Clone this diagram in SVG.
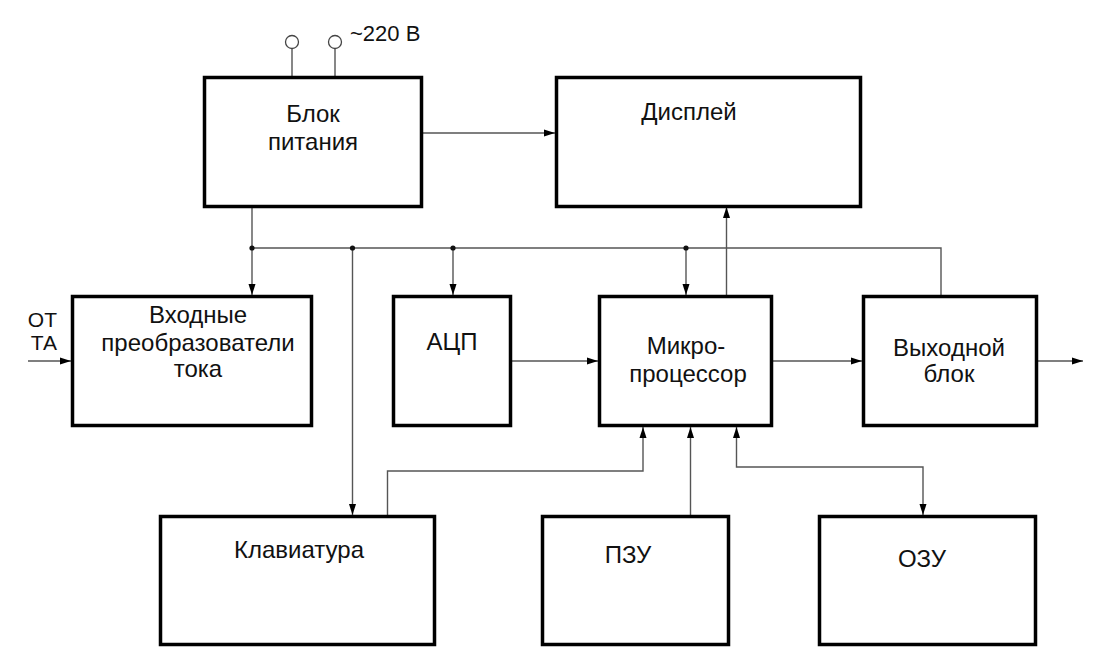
<svg xmlns="http://www.w3.org/2000/svg" width="1100" height="666" viewBox="0 0 1100 666">
<defs>
<style>
.box{fill:#fff;stroke:#000;stroke-width:3.5}
.ln{fill:none;stroke:#555;stroke-width:1.4}
.ar{marker-end:url(#ah)}
.t{font-family:"Liberation Sans",Arial,sans-serif;font-size:24px;fill:#111;text-anchor:middle}
.s{font-family:"Liberation Sans",Arial,sans-serif;font-size:21px;fill:#111}
.dot{fill:#111}
</style>
<marker id="ah" markerUnits="userSpaceOnUse" markerWidth="11" markerHeight="8" refX="11" refY="4" orient="auto-start-reverse" viewBox="0 0 11 8">
<path d="M0,0.5 L11,4 L0,7.5 z" fill="#000"/>
</marker>
</defs>
<rect width="1100" height="666" fill="#fff"/>
<g id="connectors">
<path class="ln" d="M292,48.5 V77 M335,48.5 V77"/>
<circle cx="292" cy="42" r="6.5" fill="#fff" stroke="#444" stroke-width="1.3"/>
<circle cx="335" cy="42" r="6.5" fill="#fff" stroke="#444" stroke-width="1.3"/>
<path class="ln ar" d="M422,133 H555"/>
<path class="ln ar" d="M252,208 V295"/>
<path class="ln" d="M252,248 H941 V295"/>
<path class="ln ar" d="M352.5,248 V515"/>
<path class="ln ar" d="M453,248 V295"/>
<path class="ln ar" d="M686,248 V295"/>
<path class="ln ar" d="M726.5,295 V207"/>
<path class="ln ar" d="M512,361 H598"/>
<path class="ln ar" d="M773,361 H862"/>
<path class="ln ar" d="M1038,361 H1083"/>
<path class="ln ar" d="M28,361 H71"/>
<path class="ln ar" d="M387.5,515 V471 H643 V427"/>
<path class="ln ar" d="M690.5,515 V427"/>
<path class="ln ar" style="marker-start:url(#ah)" d="M736.5,427 V467 H923 V515"/>
<circle class="dot" cx="252" cy="248" r="2.6"/>
<circle class="dot" cx="352.5" cy="248" r="2.6"/>
<circle class="dot" cx="453" cy="248" r="2.6"/>
<circle class="dot" cx="686" cy="248" r="2.6"/>
<text x="350" y="41" class="s" style="font-size:22px">~220 В</text>
<text x="57" y="327" class="s" style="text-anchor:end">ОТ</text>
<text x="57" y="350" class="s" style="text-anchor:end">ТА</text>
</g>
<g id="power">
<rect class="box" x="204.5" y="77.5" width="217" height="129"/>
<text class="t" x="313" y="122">Блок</text>
<text class="t" x="313" y="150">питания</text>
</g>
<g id="display">
<rect class="box" x="556.5" y="77.5" width="304" height="129"/>
<text class="t" x="689" y="120">Дисплей</text>
</g>
<g id="input">
<rect class="box" x="72.5" y="296.5" width="239" height="129"/>
<text class="t" x="198" y="323">Входные</text>
<text class="t" x="198" y="351">преобразователи</text>
<text class="t" x="198" y="377">тока</text>
</g>
<g id="adc">
<rect class="box" x="393.5" y="296.5" width="117" height="129"/>
<text class="t" x="452" y="350">АЦП</text>
</g>
<g id="cpu">
<rect class="box" x="599.5" y="296.5" width="172" height="129"/>
<text class="t" x="686" y="354">Микро-</text>
<text class="t" x="688" y="382">процессор</text>
</g>
<g id="output">
<rect class="box" x="863.5" y="296.5" width="173" height="129"/>
<text class="t" x="949" y="356">Выходной</text>
<text class="t" x="949" y="382">блок</text>
</g>
<g id="keyboard">
<rect class="box" x="160.5" y="516.5" width="274" height="128"/>
<text class="t" x="299" y="558">Клавиатура</text>
</g>
<g id="rom">
<rect class="box" x="542.5" y="516.5" width="186" height="128"/>
<text class="t" x="628" y="563">ПЗУ</text>
</g>
<g id="ram">
<rect class="box" x="819.5" y="516.5" width="216" height="128"/>
<text class="t" x="922" y="567">ОЗУ</text>
</g>
</svg>
